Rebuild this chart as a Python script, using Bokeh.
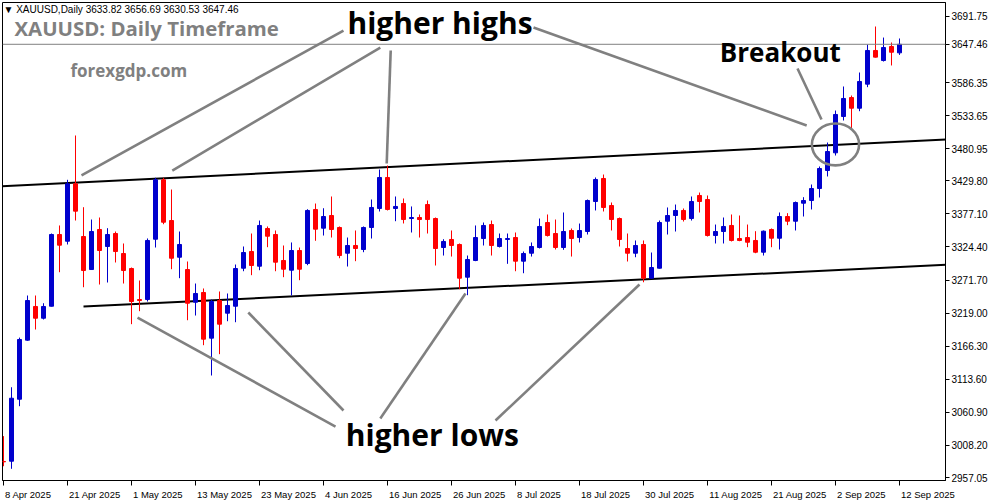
from bokeh.plotting import figure
from bokeh.models import FixedTicker, Label, Span, NumeralTickFormatter
from bokeh.embed import file_html
from bokeh.resources import INLINE

# ---------------- data (XAUUSD daily, 8 Apr 2025 - 12 Sep 2025) ----------------
opens = [2982.6, 2983.0, 3081.8, 3175.9, 3229.6, 3210.9, 3230.0, 3344.3, 3333.6, 3425.1,
         3341.1, 3288.5, 3352.3, 3325.2, 3345.9, 3314.0, 3290.1, 3240.7, 3240.7, 3336.8,
         3431.5, 3366.6, 3308.1, 3288.5, 3236.4, 3251.9, 3179.1, 3239.1, 3218.9, 3230.0,
         3290.6, 3317.2, 3293.8, 3353.9, 3344.3, 3302.9, 3287.4, 3318.8, 3298.1, 3384.2,
         3354.4, 3374.6, 3355.5, 3314.5, 3326.8, 3320.4, 3355.5, 3385.8, 3435.2, 3385.8,
         3393.7, 3369.8, 3371.4, 3392.1, 3369.8, 3323.6, 3336.4, 3328.4, 3276.3, 3302.9,
         3337.9, 3360.2, 3325.2, 3336.4, 3339.5, 3301.8, 3314.5, 3323.6, 3363.4, 3345.9,
         3323.6, 3350.7, 3339.5, 3349.1, 3396.9, 3433.6, 3390.5, 3369.8, 3322.0, 3314.5,
         3328.4, 3274.7, 3290.6, 3365.5, 3374.6, 3382.6, 3369.8, 3406.5, 3400.1, 3342.7,
         3349.1, 3358.7, 3337.9, 3339.5, 3334.8, 3316.1, 3352.3, 3338.4, 3373.0, 3365.5,
         3394.2, 3398.5, 3417.6, 3446.3, 3474.5, 3532.4, 3562.6, 3545.6, 3583.9, 3637.6,
         3621.6, 3643.9, 3633.82]
highs = [3023.0, 3100.9, 3180.0, 3247.1, 3247.1, 3234.8, 3345.9, 3358.7, 3431.5, 3502.1,
         3387.8, 3368.2, 3371.4, 3354.4, 3349.1, 3330.0, 3291.7, 3271.0, 3338.0, 3434.7,
         3434.7, 3416.0, 3349.1, 3301.3, 3266.2, 3258.3, 3240.7, 3253.5, 3250.3, 3296.5,
         3325.2, 3345.9, 3366.6, 3357.1, 3350.7, 3326.8, 3331.6, 3323.6, 3384.6, 3393.7,
         3386.2, 3404.9, 3357.1, 3339.5, 3350.7, 3357.1, 3400.1, 3447.9, 3454.3, 3404.9,
         3401.7, 3389.0, 3376.2, 3398.5, 3371.4, 3336.8, 3350.7, 3330.0, 3310.8, 3358.7,
         3363.4, 3366.6, 3345.9, 3345.9, 3347.5, 3317.2, 3331.6, 3369.8, 3376.2, 3368.2,
         3379.4, 3353.9, 3361.8, 3400.1, 3435.2, 3439.9, 3395.3, 3371.4, 3345.9, 3334.8,
         3334.8, 3315.6, 3366.6, 3387.4, 3392.1, 3385.8, 3404.9, 3411.2, 3406.5, 3360.2,
         3371.4, 3376.2, 3374.6, 3360.2, 3349.6, 3350.7, 3353.9, 3379.4, 3378.3, 3396.9,
         3403.8, 3424.0, 3452.7, 3490.9, 3541.9, 3580.2, 3565.8, 3602.5, 3647.1, 3675.8,
         3658.2, 3650.3, 3656.69]
lows = [2975.0, 2970.9, 3070.7, 3175.0, 3192.9, 3208.9, 3229.6, 3284.2, 3328.4, 3366.6,
        3260.3, 3288.5, 3264.6, 3267.8, 3299.7, 3266.2, 3201.4, 3222.1, 3237.5, 3323.6,
        3360.7, 3289.0, 3274.7, 3207.7, 3215.2, 3167.9, 3119.6, 3153.6, 3206.1, 3204.5,
        3285.8, 3279.5, 3287.4, 3324.1, 3285.8, 3276.3, 3247.1, 3271.5, 3295.4, 3334.3,
        3342.7, 3339.5, 3306.5, 3293.3, 3301.8, 3316.1, 3337.9, 3381.0, 3382.6, 3365.5,
        3361.9, 3347.5, 3339.5, 3345.9, 3294.9, 3310.8, 3309.2, 3257.2, 3247.6, 3301.8,
        3326.8, 3310.8, 3323.6, 3297.6, 3285.8, 3282.6, 3309.2, 3322.0, 3341.1, 3320.4,
        3319.9, 3309.2, 3331.6, 3344.3, 3382.6, 3381.0, 3350.7, 3325.2, 3301.3, 3308.1,
        3268.2, 3274.2, 3290.1, 3344.3, 3349.1, 3365.0, 3366.6, 3379.4, 3341.1, 3330.0,
        3330.0, 3333.2, 3333.6, 3324.1, 3314.5, 3310.8, 3324.1, 3320.4, 3359.2, 3350.7,
        3373.0, 3384.2, 3403.3, 3436.8, 3470.2, 3526.0, 3511.7, 3540.8, 3579.1, 3626.4,
        3620.0, 3613.7, 3630.53]
closes = [2982.0, 3083.4, 3177.0, 3239.1, 3210.9, 3229.6, 3344.3, 3327.3, 3425.1, 3381.5,
          3286.9, 3349.1, 3318.8, 3344.3, 3317.2, 3286.9, 3237.5, 3239.1, 3334.8, 3431.5,
          3363.9, 3306.5, 3328.4, 3234.8, 3250.3, 3177.5, 3237.5, 3201.4, 3231.2, 3290.1,
          3315.6, 3294.9, 3358.7, 3341.6, 3300.2, 3289.0, 3318.8, 3289.0, 3382.6, 3352.8,
          3373.0, 3352.3, 3310.8, 3326.8, 3322.0, 3355.5, 3387.4, 3435.2, 3384.2, 3389.0,
          3368.2, 3371.4, 3368.2, 3368.2, 3322.0, 3333.2, 3326.8, 3274.7, 3304.5, 3339.5,
          3358.7, 3326.8, 3337.9, 3337.9, 3301.8, 3314.0, 3325.2, 3357.1, 3342.7, 3323.6,
          3349.1, 3337.9, 3350.7, 3398.5, 3432.0, 3387.4, 3368.2, 3336.4, 3314.5, 3326.8,
          3274.7, 3291.7, 3363.4, 3374.6, 3382.6, 3368.2, 3396.9, 3396.9, 3342.7, 3349.1,
          3357.1, 3334.8, 3334.8, 3332.0, 3316.1, 3349.6, 3338.4, 3373.0, 3365.5, 3395.3,
          3398.5, 3417.6, 3449.5, 3476.6, 3535.6, 3561.1, 3545.6, 3588.2, 3637.6, 3627.0,
          3642.3, 3634.8, 3647.46]

tick_bars = [0, 8, 16, 24, 32, 40, 48, 56, 64, 72, 80, 88, 96, 104, 112]
tick_labels = ["8 Apr 2025", "21 Apr 2025", "1 May 2025", "13 May 2025", "23 May 2025",
               "4 Jun 2025", "16 Jun 2025", "26 Jun 2025", "8 Jul 2025", "18 Jul 2025",
               "30 Jul 2025", "11 Aug 2025", "21 Aug 2025", "2 Sep 2025", "12 Sep 2025"]
price_ticks = [2957.05, 3008.20, 3060.90, 3113.60, 3166.30, 3219.00, 3271.70, 3324.40,
               3377.10, 3429.80, 3480.95, 3533.65, 3586.35, 3691.75]
last_price = 3647.46
header_text = "\u25bc XAUUSD,Daily  3633.82 3656.69 3630.53 3647.46"

# drawing objects (bar index, price)
upper_channel = [(8, 3426.4), (104, 3487.0)]
lower_channel = [(10, 3229.6), (79.5, 3272.5)]
high_arrows = [((42.5, 3669.4), (9.75, 3438.4)), ((47.1, 3642.3), (21.1, 3446.3)),
               ((48.4, 3637.6), (47.9, 3457.5)), ((66.25, 3674.2), (100.4, 3518.0))]
breakout_arrow = ((99.25, 3608.9), (102.25, 3527.6))
low_arrows = [((41.5, 3038.3), (16.75, 3212.0)), ((42.5, 3063.8), (30.6, 3220.0)),
              ((47.1, 3051.1), (57.75, 3250.3)), ((61.5, 3047.9), (79.5, 3264.6))]
breakout_circle = (104, 3487.8)

# ---------------- figure ----------------
X0, X1 = -0.125, 117.75
Y0, Y1 = 2952.27, 3714.06
FW, FH = 943, 478
LEFT, TOP = 2, 2
xpp = (X1 - X0) / FW   # bars per pixel

p = figure(frame_width=FW, frame_height=FH, x_range=(X0, X1), y_range=(Y0, Y1),
           y_axis_location="right", output_backend="svg", toolbar_location=None,
           min_border_left=LEFT, min_border_top=TOP, min_border_right=0, min_border_bottom=0,
           background_fill_color="white", border_fill_color="white")
p.xgrid.visible = False
p.ygrid.visible = False
p.outline_line_color = "black"
p.outline_line_alpha = 1.0
p.outline_line_width = 1

# price scale, including the current price
p.yaxis.ticker = FixedTicker(ticks=sorted(price_ticks + [last_price]))
p.yaxis.formatter = NumeralTickFormatter(format="0.00")
p.yaxis.major_label_text_font = "Liberation Sans"
p.yaxis.major_label_text_font_size = "10px"
p.yaxis.major_label_text_color = "black"
p.yaxis.major_tick_in = 0
p.yaxis.major_tick_out = 4
p.yaxis.minor_tick_line_color = None
p.yaxis.major_label_standoff = 2
p.yaxis.axis_line_color = "black"

# x axis: minor ticks mark the dates, major (invisible) ticks carry the
# date texts, left-aligned on their tick (MT4 style)
CHAR_W = {" ": 278, "A": 667, "p": 556, "r": 333, "M": 833, "a": 556, "y": 500, "J": 500,
          "u": 556, "n": 556, "l": 222, "S": 667, "e": 556, "g": 556}
DATE_FONT = 9.5
def text_width_px(s, size=DATE_FONT):
    return sum(CHAR_W.get(ch, 556) for ch in s) * size / 1000.0

label_pos = []
overrides = {}
for b, t in zip(tick_bars, tick_labels):
    pos = round(b + (1.5 + text_width_px(t) / 2.0) * xpp, 3)
    if pos == int(pos):
        pos += 0.001
    label_pos.append(pos)
    overrides[pos] = t

p.xaxis.ticker = FixedTicker(ticks=label_pos, minor_ticks=tick_bars)
p.xaxis.major_label_overrides = overrides
p.xaxis.major_tick_line_color = None
p.xaxis.major_tick_in = 0
p.xaxis.major_tick_out = 0
p.xaxis.minor_tick_in = 0
p.xaxis.minor_tick_out = 5
p.xaxis.minor_tick_line_color = "black"
p.xaxis.major_label_standoff = 3
p.xaxis.major_label_text_font = "Liberation Sans"
p.xaxis.major_label_text_font_size = "%spx" % DATE_FONT
p.xaxis.major_label_text_color = "black"
p.xaxis.axis_line_color = "black"

# price line
p.add_layout(Span(location=last_price, dimension="width", line_color="#808080", line_width=1))

# channel lines
def extend(pts, left):
    (xa, ya), (xb, yb) = pts
    s = (yb - ya) / (xb - xa)
    xr = X1 + 1
    return [left, xr], [ya + s * (left - xa), ya + s * (xr - xa)]

ux, uy = extend(upper_channel, X0 - 1)
p.line(ux, uy, line_color="black", line_width=2)
lx, ly = extend(lower_channel, lower_channel[0][0])
p.line(lx, ly, line_color="black", line_width=2)

# candles
BLUE, RED = "#0000CD", "#FF0000"
idx = list(range(len(opens)))
colors = [BLUE if c >= o else RED for o, c in zip(opens, closes)]
p.segment(x0=idx, y0=lows, x1=idx, y1=highs, line_color=colors, line_width=1)
tops = [max(o, c) for o, c in zip(opens, closes)]
bots = [min(o, c) for o, c in zip(opens, closes)]
p.vbar(x=idx, top=tops, bottom=bots, width=0.5, fill_color=colors, line_color=colors, line_width=1)

# annotation lines
GRAY = "#808080"
for (a, b) in high_arrows + [breakout_arrow] + low_arrows:
    p.line([a[0], b[0]], [a[1], b[1]], line_color=GRAY, line_width=2.6)
p.ellipse(x=[breakout_circle[0]], y=[breakout_circle[1]], width=5.9, height=66.9,
          fill_color=None, line_color=GRAY, line_width=2.6)

# texts
def add_label(x, y, text, size, color="black", bold=True, align="left", font="Open Sans"):
    lab = Label(x=x, y=y, text=text, text_font=font, text_font_size=size,
                text_color=color, text_font_style="bold" if bold else "normal",
                text_align=align, text_baseline="alphabetic")
    p.add_layout(lab)
    return lab

add_label(54.56, 3681.75, "higher highs", "30px", align="center")
add_label(53.6, 3025.55, "higher lows", "30px", align="center")
add_label(97.1, 3635.35, "Breakout", "26px", align="center")
add_label(1.375, 3672.65, "XAUUSD: Daily Timeframe", "20.4px", color=GRAY)
add_label(8.375, 3605.05, "forexgdp.com", "17px", color=GRAY)
add_label(0.0, 3702.85, header_text, "10px", bold=False, font="Liberation Sans")

open("out.html", "w").write(file_html(p, INLINE))
